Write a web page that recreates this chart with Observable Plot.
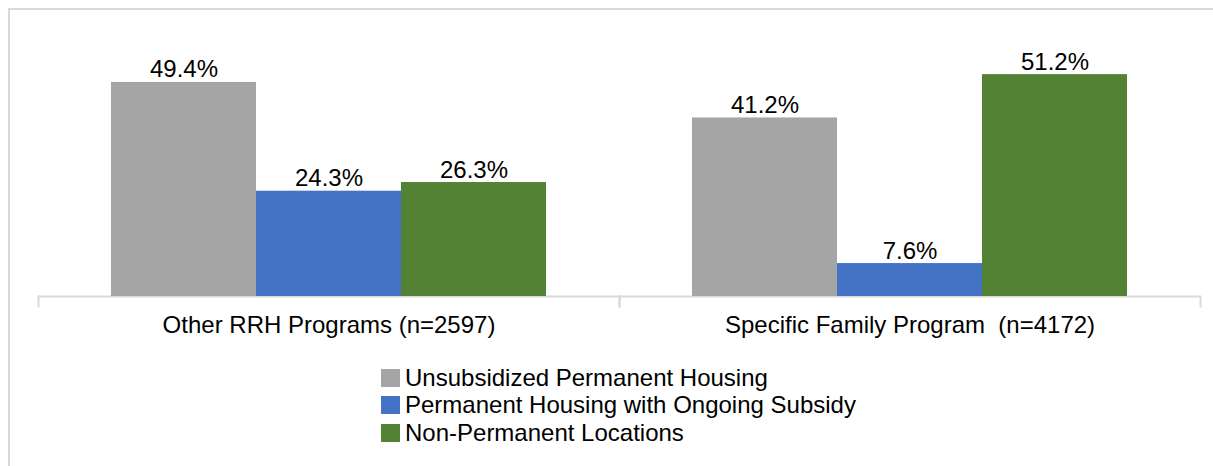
<!DOCTYPE html>
<html>
<head>
<meta charset="utf-8">
<script src="https://cdn.jsdelivr.net/npm/d3@7"></script>
<script src="https://cdn.jsdelivr.net/npm/@observablehq/plot@0.6"></script>
<style>
  html, body { margin: 0; padding: 0; background: #fff; overflow: hidden; }
  body { width: 1213px; height: 466px; position: relative; font-family: "Liberation Sans", Arial, sans-serif; }
  #border { position: absolute; left: 8px; top: 8px; width: 1300px; height: 600px; border: 2px solid #d9d9d9; box-sizing: border-box; }
  #chart { position: absolute; left: 0; top: 0; }
  #chart svg text { white-space: pre; }
  #legend { position: absolute; left: 381px; top: 364px; font-size: 24px; color: #000; }
  .row { display: flex; align-items: center; height: 27.5px; white-space: pre; }
  .sw { width: 19px; height: 18px; margin-right: 5px; flex: none; }
</style>
</head>
<body>
<div id="border"></div>
<div id="chart"></div>
<div id="legend"></div>
<script>
const programs = ["Other RRH Programs (n=2597)", "Specific Family Program  (n=4172)"];
const categories = ["Unsubsidized Permanent Housing", "Permanent Housing with Ongoing Subsidy", "Non-Permanent Locations"];
const unsubsidized = [49.4, 41.2];
const ongoingSubsidy = [24.3, 7.6];
const nonPermanent = [26.3, 51.2];
const colors = ["#a5a5a5", "#4472c4", "#548235"];

const series = [unsubsidized, ongoingSubsidy, nonPermanent];
const data = [];
programs.forEach((p, i) => {
  categories.forEach((c, j) => data.push({program: p, category: c, value: series[j][i]}));
});

const chart = Plot.plot({
  width: 1213,
  height: 350,
  marginLeft: 37,
  marginRight: 13,
  marginTop: 36,
  marginBottom: 54,
  style: {fontFamily: "'Liberation Sans', Arial, sans-serif", fontSize: "24px", color: "#000", background: "transparent", overflow: "visible"},
  fx: {domain: programs, padding: 0, label: null, axis: "bottom", tickSize: 0, tickPadding: 19},
  x: {domain: categories, paddingInner: 0, paddingOuter: 0.5, axis: null},
  y: {domain: [0, 60], axis: null},
  color: {domain: categories, range: colors},
  marks: [
    Plot.ruleY([0], {stroke: "#d9d9d9", strokeWidth: 2}),
    Plot.frame({anchor: "left", stroke: "#d9d9d9", strokeWidth: 2, insetTop: 260, insetBottom: -10}),
    Plot.frame({anchor: "right", stroke: "#d9d9d9", strokeWidth: 2, insetTop: 260, insetBottom: -10}),
    Plot.barY(data, {fx: "program", x: "category", y: "value", fill: "category"}),
    Plot.text(data, {fx: "program", x: "category", y: "value", text: d => d.value.toFixed(1) + "%", lineAnchor: "bottom", dy: -5, fill: "#000"})
  ]
});
document.getElementById("chart").appendChild(chart);

const legend = document.getElementById("legend");
categories.forEach((c, i) => {
  const row = document.createElement("div");
  row.className = "row";
  const sw = document.createElement("span");
  sw.className = "sw";
  sw.style.background = colors[i];
  const t = document.createElement("span");
  t.textContent = c;
  row.appendChild(sw);
  row.appendChild(t);
  legend.appendChild(row);
});
</script>
</body>
</html>
